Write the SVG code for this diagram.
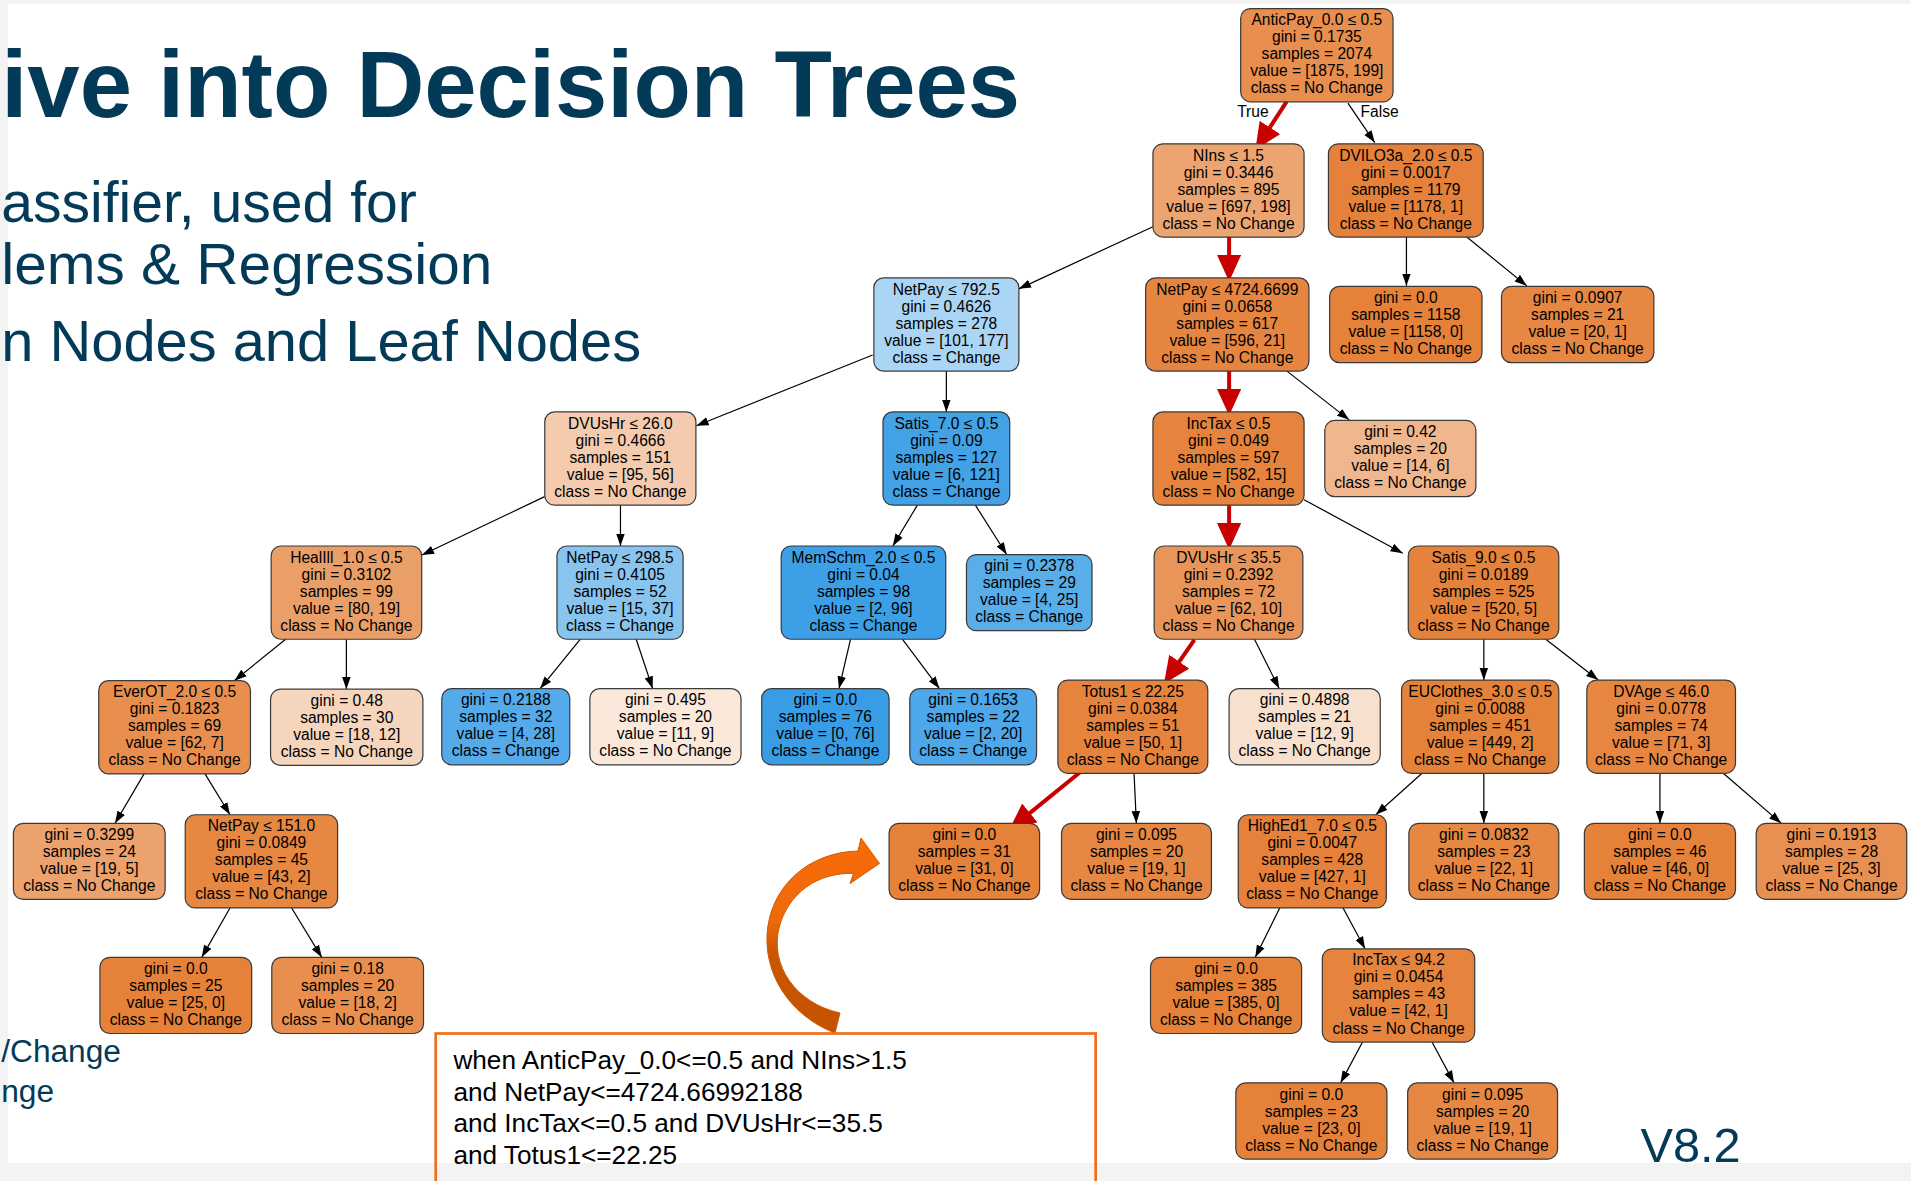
<svg xmlns="http://www.w3.org/2000/svg" width="1911" height="1181" viewBox="0 0 1911 1181">
<defs>
<style>
.nd rect{stroke:#3a3a3a;stroke-width:1}
.t{font-family:"Liberation Sans",Arial,sans-serif;font-size:12.8px;fill:#000;text-anchor:middle}
.e{stroke:#000;stroke-width:1;fill:none;marker-end:url(#ah)}
.r{stroke:#c80000;stroke-width:3.3;fill:none;marker-end:url(#rh)}
.sl{font-family:"Liberation Sans",Arial,sans-serif;fill:#033a57}
.cb{font-family:"Liberation Sans",Arial,sans-serif;font-size:21.5px;fill:#000}
</style>
<marker id="ah" markerUnits="userSpaceOnUse" markerWidth="10" markerHeight="8" refX="10" refY="4" orient="auto"><path d="M0,0.5 L10,4 L0,7.5 z" fill="#000"/></marker>
<marker id="rh" markerUnits="userSpaceOnUse" markerWidth="22" markerHeight="20" refX="4" refY="10" orient="auto"><path d="M0,0 L22,10 L0,20 z" fill="#c80000"/></marker>
<linearGradient id="ag" x1="0" y1="0" x2="0" y2="1">
<stop offset="0" stop-color="#f76b08"/>
<stop offset="0.42" stop-color="#ef6a0c"/>
<stop offset="0.58" stop-color="#c95600"/>
<stop offset="1" stop-color="#c45300"/>
</linearGradient>
</defs>
<rect x="0" y="0" width="1911" height="1181" fill="#f3f3f3"/>
<rect x="8" y="4" width="1903" height="1159" fill="#ffffff"/>
<path d="M835,1033 C800,1020 765,985 767,935 C770,885 810,852 858,851 L861,838 L879.5,863.5 L850,883.5 L853.5,873.5 C818,872 788,893 779,928 C770,965 795,1003 840,1013 Z" fill="url(#ag)" stroke="#d45a00" stroke-width="1"/>
<g transform="scale(1.21875)">
<g id="slide-text">
<text class="sl" x="1" y="96" font-size="78" font-weight="bold" textLength="836" lengthAdjust="spacingAndGlyphs">ive into Decision Trees</text>
<text class="sl" x="1" y="182" font-size="47" textLength="341" lengthAdjust="spacingAndGlyphs">assifier, used for</text>
<text class="sl" x="1" y="233" font-size="47" textLength="403" lengthAdjust="spacingAndGlyphs">lems &amp; Regression</text>
<text class="sl" x="1" y="296" font-size="47" textLength="525" lengthAdjust="spacingAndGlyphs">n Nodes and Leaf Nodes</text>
<text class="sl" x="1" y="871" font-size="26">/Change</text>
<text class="sl" x="1" y="904" font-size="26">nge</text>
<text class="sl" x="1346" y="953.6" font-size="40">V8.2</text>
</g>
<g id="connectors">
<line class="r" x1="1055.7" y1="83.4" x2="1039.8" y2="107.9"/>
<line class="e" x1="1106" y1="84.6" x2="1128" y2="117"/>
<text class="t" x="1028" y="96">True</text>
<text class="t" x="1132" y="96">False</text>
<line class="e" x1="946" y1="186" x2="836" y2="237"/>
<line class="r" x1="1008.5" y1="194" x2="1008.5" y2="213"/>
<line class="e" x1="1154" y1="194.5" x2="1154" y2="234.5"/>
<line class="e" x1="1203" y1="194" x2="1252.7" y2="234.5"/>
<line class="e" x1="716" y1="291.3" x2="571.4" y2="349.3"/>
<line class="e" x1="776.5" y1="304.5" x2="776.5" y2="338"/>
<line class="r" x1="1008.5" y1="304.5" x2="1008.5" y2="323"/>
<line class="e" x1="1056" y1="304.5" x2="1107" y2="344.5"/>
<line class="e" x1="446.9" y1="407.5" x2="346.2" y2="455.4"/>
<line class="e" x1="509.1" y1="414.5" x2="509.1" y2="448"/>
<line class="e" x1="752.7" y1="414.5" x2="732.6" y2="448"/>
<line class="e" x1="800.3" y1="414.5" x2="826" y2="455"/>
<line class="r" x1="1008.5" y1="414.5" x2="1008.5" y2="433"/>
<line class="e" x1="1070" y1="410" x2="1151" y2="454"/>
<line class="e" x1="234.4" y1="524.5" x2="192.3" y2="558.5"/>
<line class="e" x1="284.2" y1="524.5" x2="284.2" y2="565.5"/>
<line class="e" x1="476.2" y1="524.5" x2="443.2" y2="565"/>
<line class="e" x1="522" y1="524.5" x2="535.5" y2="565"/>
<line class="e" x1="697.9" y1="524.5" x2="688.4" y2="565"/>
<line class="e" x1="740.4" y1="524.5" x2="770.8" y2="565"/>
<line class="r" x1="980" y1="525" x2="965.3" y2="546.2"/>
<line class="e" x1="1029.3" y1="524.5" x2="1049.6" y2="565"/>
<line class="e" x1="1217.5" y1="524.5" x2="1217.5" y2="558"/>
<line class="e" x1="1268.3" y1="524.5" x2="1311.4" y2="558"/>
<line class="e" x1="118.2" y1="635" x2="94.4" y2="675.5"/>
<line class="e" x1="168.2" y1="635" x2="188.7" y2="668.5"/>
<line class="r" x1="886.7" y1="633.2" x2="841.9" y2="669.6"/>
<line class="e" x1="930.5" y1="634.5" x2="932.4" y2="675.5"/>
<line class="e" x1="1166.8" y1="634.5" x2="1128.8" y2="668.5"/>
<line class="e" x1="1217.5" y1="634.5" x2="1217.5" y2="675.5"/>
<line class="e" x1="1362" y1="634.5" x2="1362" y2="675.5"/>
<line class="e" x1="1414" y1="634.5" x2="1461.5" y2="675.5"/>
<line class="e" x1="188.7" y1="745" x2="165.5" y2="785.5"/>
<line class="e" x1="239.3" y1="745" x2="264" y2="785.5"/>
<line class="e" x1="1050" y1="745" x2="1030" y2="785.5"/>
<line class="e" x1="1102" y1="745" x2="1120" y2="778.5"/>
<line class="e" x1="1118" y1="855" x2="1100" y2="888.5"/>
<line class="e" x1="1175" y1="855" x2="1193" y2="888.5"/>
</g>
<g id="n0" class="nd"><rect x="1018" y="7" width="125" height="76.5" rx="8" fill="#e88e4e"/><text class="t" x="1080.5" y="20.7"><tspan x="1080.5">AnticPay_0.0 ≤ 0.5</tspan><tspan x="1080.5" dy="13.95">gini = 0.1735</tspan><tspan x="1080.5" dy="13.95">samples = 2074</tspan><tspan x="1080.5" dy="13.95">value = [1875, 199]</tspan><tspan x="1080.5" dy="13.95">class = No Change</tspan></text></g>
<g id="n1" class="nd"><rect x="946" y="118" width="124" height="76.5" rx="8" fill="#eca571"/><text class="t" x="1008" y="131.7"><tspan x="1008">NIns ≤ 1.5</tspan><tspan x="1008" dy="13.95">gini = 0.3446</tspan><tspan x="1008" dy="13.95">samples = 895</tspan><tspan x="1008" dy="13.95">value = [697, 198]</tspan><tspan x="1008" dy="13.95">class = No Change</tspan></text></g>
<g id="n2" class="nd"><rect x="1090" y="118" width="127" height="76.5" rx="8" fill="#e5813a"/><text class="t" x="1153.5" y="131.7"><tspan x="1153.5">DVILO3a_2.0 ≤ 0.5</tspan><tspan x="1153.5" dy="13.95">gini = 0.0017</tspan><tspan x="1153.5" dy="13.95">samples = 1179</tspan><tspan x="1153.5" dy="13.95">value = [1178, 1]</tspan><tspan x="1153.5" dy="13.95">class = No Change</tspan></text></g>
<g id="n3" class="nd"><rect x="717" y="228" width="119" height="76.5" rx="8" fill="#aad5f4"/><text class="t" x="776.5" y="241.7"><tspan x="776.5">NetPay ≤ 792.5</tspan><tspan x="776.5" dy="13.95">gini = 0.4626</tspan><tspan x="776.5" dy="13.95">samples = 278</tspan><tspan x="776.5" dy="13.95">value = [101, 177]</tspan><tspan x="776.5" dy="13.95">class = Change</tspan></text></g>
<g id="n4" class="nd"><rect x="940" y="228" width="134" height="76.5" rx="8" fill="#e68540"/><text class="t" x="1007" y="241.7"><tspan x="1007">NetPay ≤ 4724.6699</tspan><tspan x="1007" dy="13.95">gini = 0.0658</tspan><tspan x="1007" dy="13.95">samples = 617</tspan><tspan x="1007" dy="13.95">value = [596, 21]</tspan><tspan x="1007" dy="13.95">class = No Change</tspan></text></g>
<g id="n5" class="nd"><rect x="1091" y="235" width="125" height="62.5" rx="8" fill="#e58139"/><text class="t" x="1153.5" y="248.7"><tspan x="1153.5">gini = 0.0</tspan><tspan x="1153.5" dy="13.95">samples = 1158</tspan><tspan x="1153.5" dy="13.95">value = [1158, 0]</tspan><tspan x="1153.5" dy="13.95">class = No Change</tspan></text></g>
<g id="n6" class="nd"><rect x="1232" y="235" width="125" height="62.5" rx="8" fill="#e68743"/><text class="t" x="1294.5" y="248.7"><tspan x="1294.5">gini = 0.0907</tspan><tspan x="1294.5" dy="13.95">samples = 21</tspan><tspan x="1294.5" dy="13.95">value = [20, 1]</tspan><tspan x="1294.5" dy="13.95">class = No Change</tspan></text></g>
<g id="n7" class="nd"><rect x="447" y="338" width="124" height="76.5" rx="8" fill="#f4cbae"/><text class="t" x="509" y="351.7"><tspan x="509">DVUsHr ≤ 26.0</tspan><tspan x="509" dy="13.95">gini = 0.4666</tspan><tspan x="509" dy="13.95">samples = 151</tspan><tspan x="509" dy="13.95">value = [95, 56]</tspan><tspan x="509" dy="13.95">class = No Change</tspan></text></g>
<g id="n8" class="nd"><rect x="724.5" y="338" width="104" height="76.5" rx="8" fill="#43a2e6"/><text class="t" x="776.5" y="351.7"><tspan x="776.5">Satis_7.0 ≤ 0.5</tspan><tspan x="776.5" dy="13.95">gini = 0.09</tspan><tspan x="776.5" dy="13.95">samples = 127</tspan><tspan x="776.5" dy="13.95">value = [6, 121]</tspan><tspan x="776.5" dy="13.95">class = Change</tspan></text></g>
<g id="n9" class="nd"><rect x="946" y="338" width="124" height="76.5" rx="8" fill="#e6843e"/><text class="t" x="1008" y="351.7"><tspan x="1008">IncTax ≤ 0.5</tspan><tspan x="1008" dy="13.95">gini = 0.049</tspan><tspan x="1008" dy="13.95">samples = 597</tspan><tspan x="1008" dy="13.95">value = [582, 15]</tspan><tspan x="1008" dy="13.95">class = No Change</tspan></text></g>
<g id="n10" class="nd"><rect x="1087" y="345" width="124" height="62.5" rx="8" fill="#f0b78e"/><text class="t" x="1149" y="358.7"><tspan x="1149">gini = 0.42</tspan><tspan x="1149" dy="13.95">samples = 20</tspan><tspan x="1149" dy="13.95">value = [14, 6]</tspan><tspan x="1149" dy="13.95">class = No Change</tspan></text></g>
<g id="n11" class="nd"><rect x="222.5" y="448" width="123.5" height="76.5" rx="8" fill="#eb9f68"/><text class="t" x="284.25" y="461.7"><tspan x="284.25">HealIll_1.0 ≤ 0.5</tspan><tspan x="284.25" dy="13.95">gini = 0.3102</tspan><tspan x="284.25" dy="13.95">samples = 99</tspan><tspan x="284.25" dy="13.95">value = [80, 19]</tspan><tspan x="284.25" dy="13.95">class = No Change</tspan></text></g>
<g id="n12" class="nd"><rect x="457" y="448" width="103.5" height="76.5" rx="8" fill="#89c4ef"/><text class="t" x="508.75" y="461.7"><tspan x="508.75">NetPay ≤ 298.5</tspan><tspan x="508.75" dy="13.95">gini = 0.4105</tspan><tspan x="508.75" dy="13.95">samples = 52</tspan><tspan x="508.75" dy="13.95">value = [15, 37]</tspan><tspan x="508.75" dy="13.95">class = Change</tspan></text></g>
<g id="n13" class="nd"><rect x="641" y="448" width="135" height="76.5" rx="8" fill="#3d9fe6"/><text class="t" x="708.5" y="461.7"><tspan x="708.5">MemSchm_2.0 ≤ 0.5</tspan><tspan x="708.5" dy="13.95">gini = 0.04</tspan><tspan x="708.5" dy="13.95">samples = 98</tspan><tspan x="708.5" dy="13.95">value = [2, 96]</tspan><tspan x="708.5" dy="13.95">class = Change</tspan></text></g>
<g id="n14" class="nd"><rect x="793" y="455" width="103" height="62.5" rx="8" fill="#59ade9"/><text class="t" x="844.5" y="468.7"><tspan x="844.5">gini = 0.2378</tspan><tspan x="844.5" dy="13.95">samples = 29</tspan><tspan x="844.5" dy="13.95">value = [4, 25]</tspan><tspan x="844.5" dy="13.95">class = Change</tspan></text></g>
<g id="n15" class="nd"><rect x="947" y="448" width="122" height="76.5" rx="8" fill="#e99559"/><text class="t" x="1008" y="461.7"><tspan x="1008">DVUsHr ≤ 35.5</tspan><tspan x="1008" dy="13.95">gini = 0.2392</tspan><tspan x="1008" dy="13.95">samples = 72</tspan><tspan x="1008" dy="13.95">value = [62, 10]</tspan><tspan x="1008" dy="13.95">class = No Change</tspan></text></g>
<g id="n16" class="nd"><rect x="1155.5" y="448" width="123.5" height="76.5" rx="8" fill="#e5823b"/><text class="t" x="1217.25" y="461.7"><tspan x="1217.25">Satis_9.0 ≤ 0.5</tspan><tspan x="1217.25" dy="13.95">gini = 0.0189</tspan><tspan x="1217.25" dy="13.95">samples = 525</tspan><tspan x="1217.25" dy="13.95">value = [520, 5]</tspan><tspan x="1217.25" dy="13.95">class = No Change</tspan></text></g>
<g id="n17" class="nd"><rect x="81" y="558.5" width="124.5" height="76.5" rx="8" fill="#e88f4f"/><text class="t" x="143.25" y="572.2"><tspan x="143.25">EverOT_2.0 ≤ 0.5</tspan><tspan x="143.25" dy="13.95">gini = 0.1823</tspan><tspan x="143.25" dy="13.95">samples = 69</tspan><tspan x="143.25" dy="13.95">value = [62, 7]</tspan><tspan x="143.25" dy="13.95">class = No Change</tspan></text></g>
<g id="n18" class="nd"><rect x="222" y="565.5" width="125" height="62.5" rx="8" fill="#f6d5bd"/><text class="t" x="284.5" y="579.2"><tspan x="284.5">gini = 0.48</tspan><tspan x="284.5" dy="13.95">samples = 30</tspan><tspan x="284.5" dy="13.95">value = [18, 12]</tspan><tspan x="284.5" dy="13.95">class = No Change</tspan></text></g>
<g id="n19" class="nd"><rect x="362.5" y="565" width="105" height="62.5" rx="8" fill="#55abe9"/><text class="t" x="415" y="578.7"><tspan x="415">gini = 0.2188</tspan><tspan x="415" dy="13.95">samples = 32</tspan><tspan x="415" dy="13.95">value = [4, 28]</tspan><tspan x="415" dy="13.95">class = Change</tspan></text></g>
<g id="n20" class="nd"><rect x="484" y="565" width="124" height="62.5" rx="8" fill="#fae8db"/><text class="t" x="546" y="578.7"><tspan x="546">gini = 0.495</tspan><tspan x="546" dy="13.95">samples = 20</tspan><tspan x="546" dy="13.95">value = [11, 9]</tspan><tspan x="546" dy="13.95">class = No Change</tspan></text></g>
<g id="n21" class="nd"><rect x="625" y="565" width="104.5" height="62.5" rx="8" fill="#399de5"/><text class="t" x="677.25" y="578.7"><tspan x="677.25">gini = 0.0</tspan><tspan x="677.25" dy="13.95">samples = 76</tspan><tspan x="677.25" dy="13.95">value = [0, 76]</tspan><tspan x="677.25" dy="13.95">class = Change</tspan></text></g>
<g id="n22" class="nd"><rect x="746.5" y="565" width="104" height="62.5" rx="8" fill="#4da7e8"/><text class="t" x="798.5" y="578.7"><tspan x="798.5">gini = 0.1653</tspan><tspan x="798.5" dy="13.95">samples = 22</tspan><tspan x="798.5" dy="13.95">value = [2, 20]</tspan><tspan x="798.5" dy="13.95">class = Change</tspan></text></g>
<g id="n23" class="nd"><rect x="868" y="558" width="123" height="76.5" rx="8" fill="#e6843d"/><text class="t" x="929.5" y="571.7"><tspan x="929.5">Totus1 ≤ 22.25</tspan><tspan x="929.5" dy="13.95">gini = 0.0384</tspan><tspan x="929.5" dy="13.95">samples = 51</tspan><tspan x="929.5" dy="13.95">value = [50, 1]</tspan><tspan x="929.5" dy="13.95">class = No Change</tspan></text></g>
<g id="n24" class="nd"><rect x="1008.5" y="565" width="124" height="62.5" rx="8" fill="#f8e0ce"/><text class="t" x="1070.5" y="578.7"><tspan x="1070.5">gini = 0.4898</tspan><tspan x="1070.5" dy="13.95">samples = 21</tspan><tspan x="1070.5" dy="13.95">value = [12, 9]</tspan><tspan x="1070.5" dy="13.95">class = No Change</tspan></text></g>
<g id="n25" class="nd"><rect x="1150" y="558" width="129" height="76.5" rx="8" fill="#e5823a"/><text class="t" x="1214.5" y="571.7"><tspan x="1214.5">EUClothes_3.0 ≤ 0.5</tspan><tspan x="1214.5" dy="13.95">gini = 0.0088</tspan><tspan x="1214.5" dy="13.95">samples = 451</tspan><tspan x="1214.5" dy="13.95">value = [449, 2]</tspan><tspan x="1214.5" dy="13.95">class = No Change</tspan></text></g>
<g id="n26" class="nd"><rect x="1302" y="558" width="122" height="76.5" rx="8" fill="#e68641"/><text class="t" x="1363" y="571.7"><tspan x="1363">DVAge ≤ 46.0</tspan><tspan x="1363" dy="13.95">gini = 0.0778</tspan><tspan x="1363" dy="13.95">samples = 74</tspan><tspan x="1363" dy="13.95">value = [71, 3]</tspan><tspan x="1363" dy="13.95">class = No Change</tspan></text></g>
<g id="n27" class="nd"><rect x="11" y="675.5" width="124.5" height="62.5" rx="8" fill="#eca26d"/><text class="t" x="73.25" y="689.2"><tspan x="73.25">gini = 0.3299</tspan><tspan x="73.25" dy="13.95">samples = 24</tspan><tspan x="73.25" dy="13.95">value = [19, 5]</tspan><tspan x="73.25" dy="13.95">class = No Change</tspan></text></g>
<g id="n28" class="nd"><rect x="152" y="668.5" width="125" height="76.5" rx="8" fill="#e68742"/><text class="t" x="214.5" y="682.2"><tspan x="214.5">NetPay ≤ 151.0</tspan><tspan x="214.5" dy="13.95">gini = 0.0849</tspan><tspan x="214.5" dy="13.95">samples = 45</tspan><tspan x="214.5" dy="13.95">value = [43, 2]</tspan><tspan x="214.5" dy="13.95">class = No Change</tspan></text></g>
<g id="n29" class="nd"><rect x="729.5" y="675.5" width="123.5" height="62.5" rx="8" fill="#e58139"/><text class="t" x="791.25" y="689.2"><tspan x="791.25">gini = 0.0</tspan><tspan x="791.25" dy="13.95">samples = 31</tspan><tspan x="791.25" dy="13.95">value = [31, 0]</tspan><tspan x="791.25" dy="13.95">class = No Change</tspan></text></g>
<g id="n30" class="nd"><rect x="871" y="675.5" width="123" height="62.5" rx="8" fill="#e68844"/><text class="t" x="932.5" y="689.2"><tspan x="932.5">gini = 0.095</tspan><tspan x="932.5" dy="13.95">samples = 20</tspan><tspan x="932.5" dy="13.95">value = [19, 1]</tspan><tspan x="932.5" dy="13.95">class = No Change</tspan></text></g>
<g id="n31" class="nd"><rect x="1016" y="668.5" width="121.5" height="76.5" rx="8" fill="#e5813a"/><text class="t" x="1076.75" y="682.2"><tspan x="1076.75">HighEd1_7.0 ≤ 0.5</tspan><tspan x="1076.75" dy="13.95">gini = 0.0047</tspan><tspan x="1076.75" dy="13.95">samples = 428</tspan><tspan x="1076.75" dy="13.95">value = [427, 1]</tspan><tspan x="1076.75" dy="13.95">class = No Change</tspan></text></g>
<g id="n32" class="nd"><rect x="1156" y="675.5" width="123" height="62.5" rx="8" fill="#e68742"/><text class="t" x="1217.5" y="689.2"><tspan x="1217.5">gini = 0.0832</tspan><tspan x="1217.5" dy="13.95">samples = 23</tspan><tspan x="1217.5" dy="13.95">value = [22, 1]</tspan><tspan x="1217.5" dy="13.95">class = No Change</tspan></text></g>
<g id="n33" class="nd"><rect x="1300" y="675.5" width="124" height="62.5" rx="8" fill="#e58139"/><text class="t" x="1362" y="689.2"><tspan x="1362">gini = 0.0</tspan><tspan x="1362" dy="13.95">samples = 46</tspan><tspan x="1362" dy="13.95">value = [46, 0]</tspan><tspan x="1362" dy="13.95">class = No Change</tspan></text></g>
<g id="n34" class="nd"><rect x="1441" y="675.5" width="123.5" height="62.5" rx="8" fill="#e89051"/><text class="t" x="1502.75" y="689.2"><tspan x="1502.75">gini = 0.1913</tspan><tspan x="1502.75" dy="13.95">samples = 28</tspan><tspan x="1502.75" dy="13.95">value = [25, 3]</tspan><tspan x="1502.75" dy="13.95">class = No Change</tspan></text></g>
<g id="n35" class="nd"><rect x="82" y="785.5" width="124.5" height="62.5" rx="8" fill="#e58139"/><text class="t" x="144.25" y="799.2"><tspan x="144.25">gini = 0.0</tspan><tspan x="144.25" dy="13.95">samples = 25</tspan><tspan x="144.25" dy="13.95">value = [25, 0]</tspan><tspan x="144.25" dy="13.95">class = No Change</tspan></text></g>
<g id="n36" class="nd"><rect x="223" y="785.5" width="124.5" height="62.5" rx="8" fill="#e88f4f"/><text class="t" x="285.25" y="799.2"><tspan x="285.25">gini = 0.18</tspan><tspan x="285.25" dy="13.95">samples = 20</tspan><tspan x="285.25" dy="13.95">value = [18, 2]</tspan><tspan x="285.25" dy="13.95">class = No Change</tspan></text></g>
<g id="n37" class="nd"><rect x="944" y="785.5" width="124" height="62.5" rx="8" fill="#e58139"/><text class="t" x="1006" y="799.2"><tspan x="1006">gini = 0.0</tspan><tspan x="1006" dy="13.95">samples = 385</tspan><tspan x="1006" dy="13.95">value = [385, 0]</tspan><tspan x="1006" dy="13.95">class = No Change</tspan></text></g>
<g id="n38" class="nd"><rect x="1085" y="778.5" width="125" height="76.5" rx="8" fill="#e6843e"/><text class="t" x="1147.5" y="792.2"><tspan x="1147.5">IncTax ≤ 94.2</tspan><tspan x="1147.5" dy="13.95">gini = 0.0454</tspan><tspan x="1147.5" dy="13.95">samples = 43</tspan><tspan x="1147.5" dy="13.95">value = [42, 1]</tspan><tspan x="1147.5" dy="13.95">class = No Change</tspan></text></g>
<g id="n39" class="nd"><rect x="1014" y="888.5" width="124" height="62.5" rx="8" fill="#e58139"/><text class="t" x="1076" y="902.2"><tspan x="1076">gini = 0.0</tspan><tspan x="1076" dy="13.95">samples = 23</tspan><tspan x="1076" dy="13.95">value = [23, 0]</tspan><tspan x="1076" dy="13.95">class = No Change</tspan></text></g>
<g id="n40" class="nd"><rect x="1155" y="888.5" width="123" height="62.5" rx="8" fill="#e68844"/><text class="t" x="1216.5" y="902.2"><tspan x="1216.5">gini = 0.095</tspan><tspan x="1216.5" dy="13.95">samples = 20</tspan><tspan x="1216.5" dy="13.95">value = [19, 1]</tspan><tspan x="1216.5" dy="13.95">class = No Change</tspan></text></g>
<g id="callout">
<rect x="357.5" y="848" width="541.5" height="140" fill="none" stroke="#f26d1b" stroke-width="2.2"/>
<text class="cb" x="372" y="877">when AnticPay_0.0&lt;=0.5 and NIns&gt;1.5</text>
<text class="cb" x="372" y="903">and NetPay&lt;=4724.66992188</text>
<text class="cb" x="372" y="929">and IncTax&lt;=0.5 and DVUsHr&lt;=35.5</text>
<text class="cb" x="372" y="955">and Totus1&lt;=22.25</text>
</g>
</g>
</svg>
